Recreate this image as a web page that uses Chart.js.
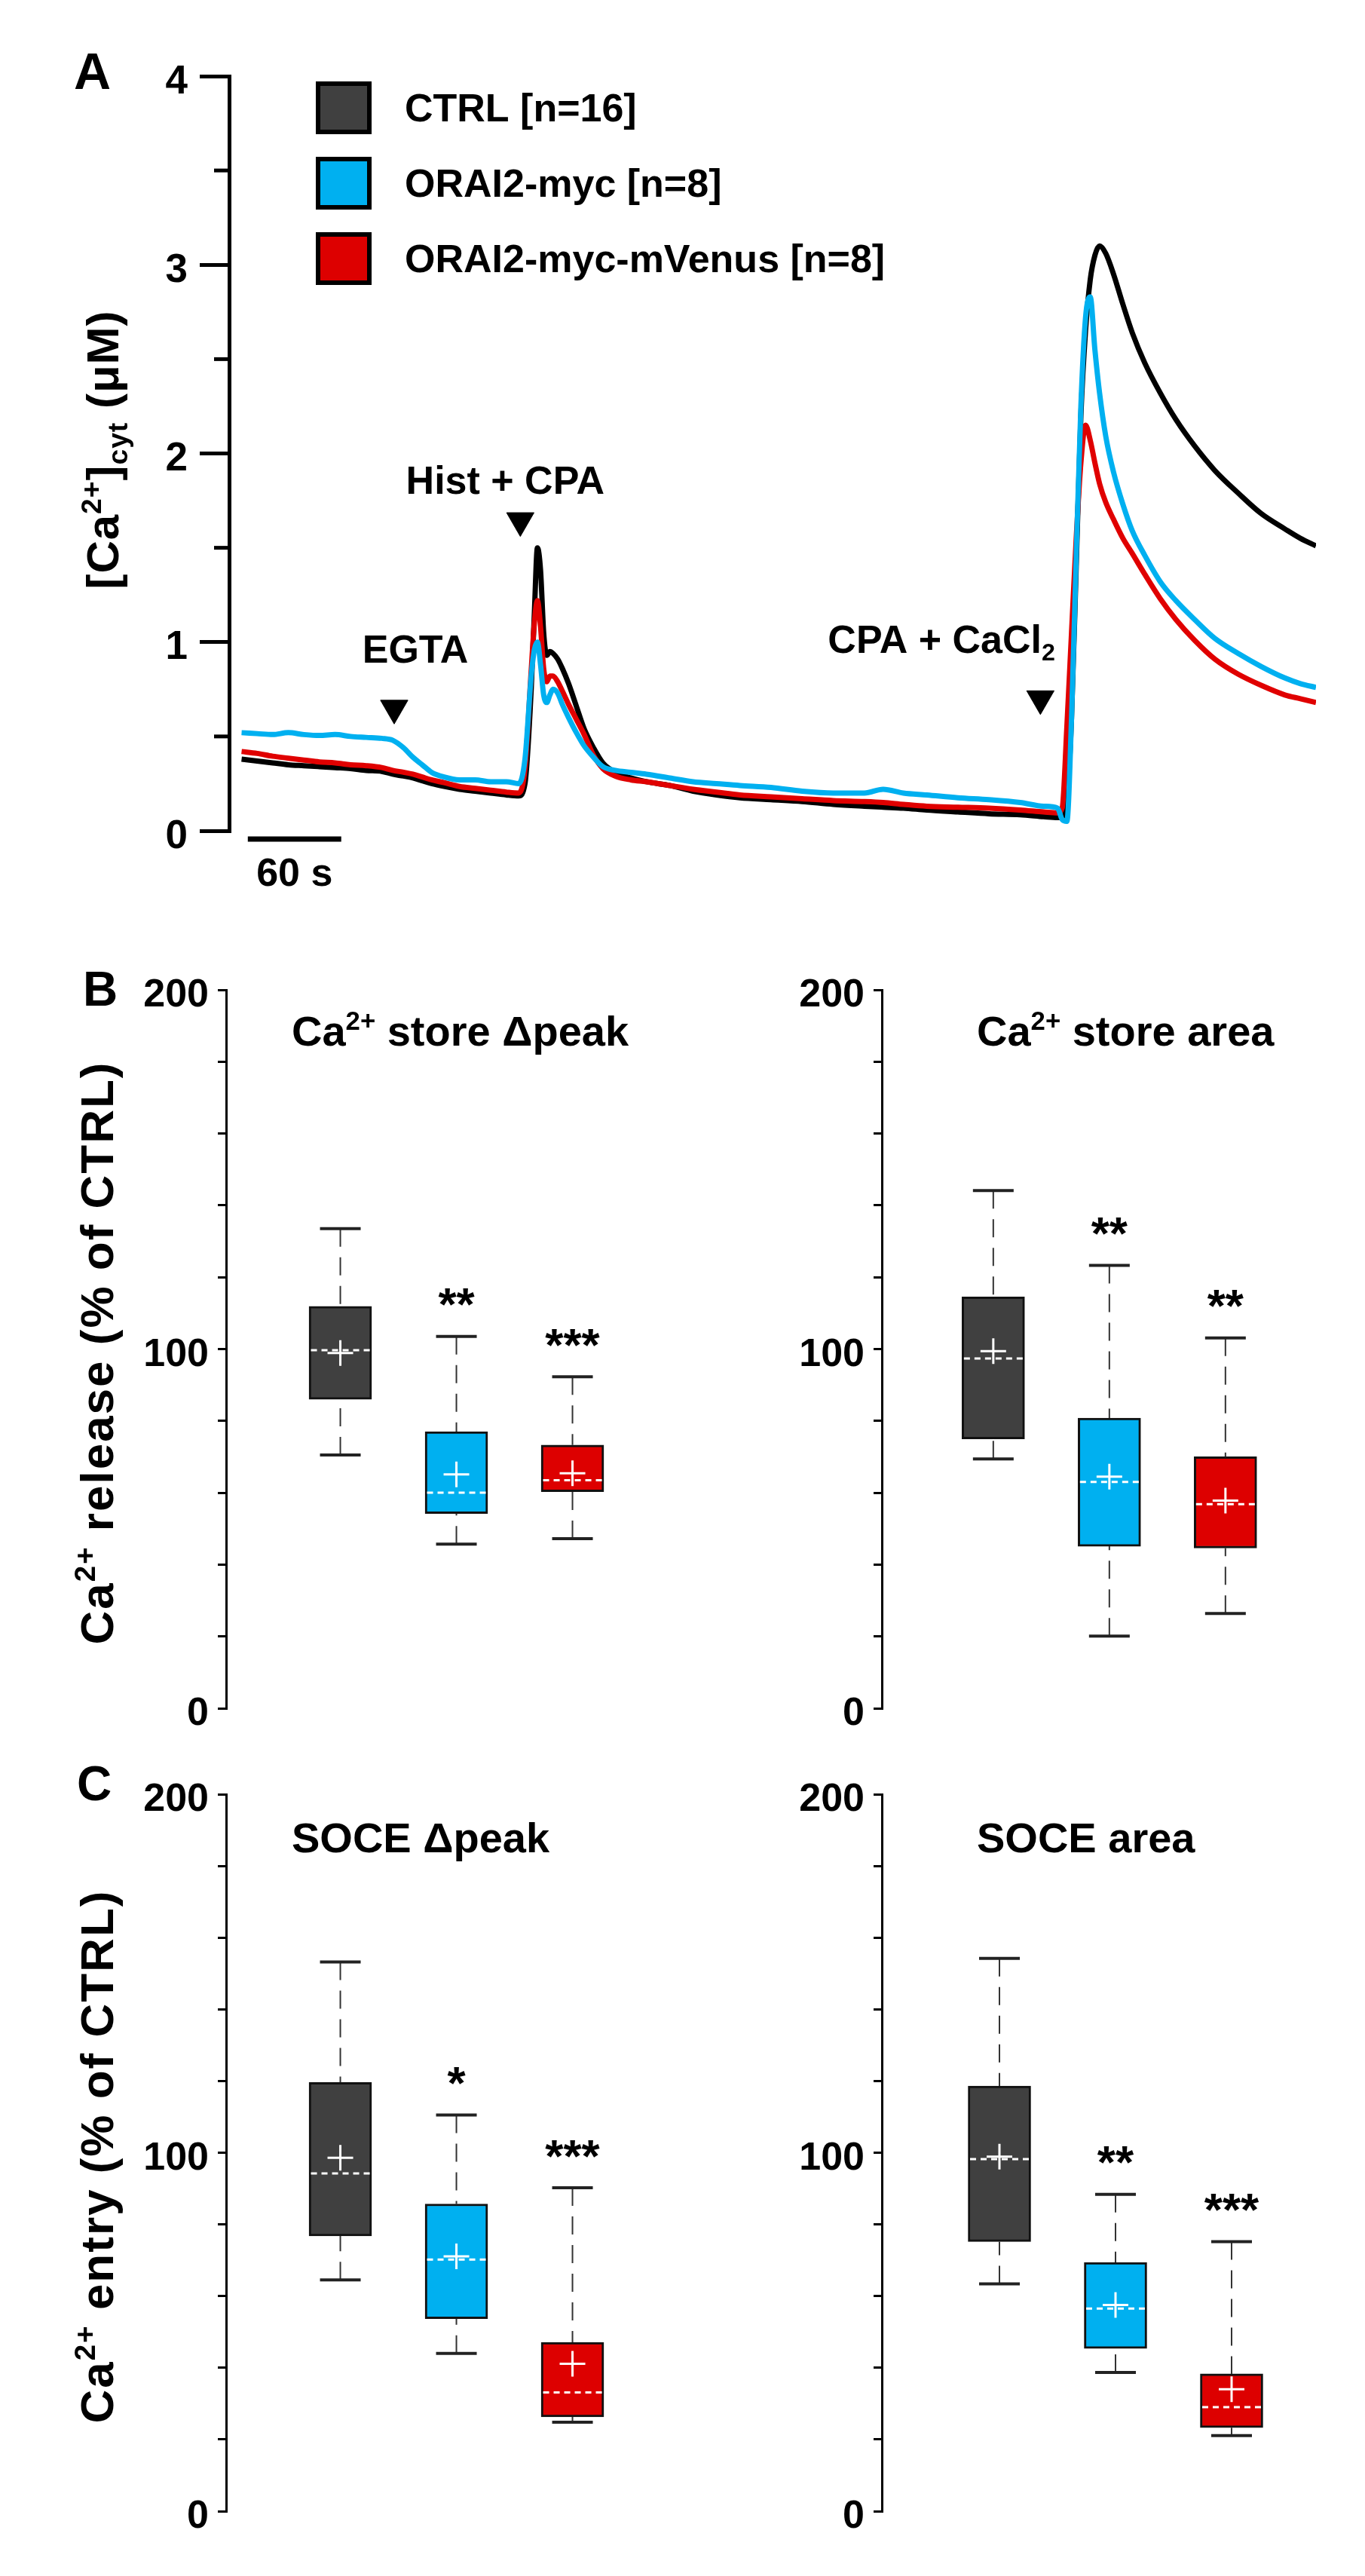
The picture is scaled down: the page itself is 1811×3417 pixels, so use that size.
<!DOCTYPE html>
<html>
<head>
<meta charset="utf-8">
<title>ORAI2 Ca2+ traces and box plots</title>
<script src="https://cdn.jsdelivr.net/npm/chart.js@4.4.1/dist/chart.umd.min.js"></script>
<style>
  html, body { margin: 0; padding: 0; background: #fff; }
  #page { position: relative; width: 1811px; height: 3417px; }
  .panel { position: absolute; }
  canvas { display: block; }
</style>
</head>
<body>
<div id="page">
  <div class="panel" style="left:0;top:0"><canvas id="traces" width="1811" height="1250"></canvas></div>
  <div class="panel" style="left:0;top:1250px"><canvas id="storePeak" width="905" height="1080"></canvas></div>
  <div class="panel" style="left:905px;top:1250px"><canvas id="storeArea" width="906" height="1080"></canvas></div>
  <div class="panel" style="left:0;top:2330px"><canvas id="socePeak" width="905" height="1087"></canvas></div>
  <div class="panel" style="left:905px;top:2330px"><canvas id="soceArea" width="906" height="1087"></canvas></div>
</div>
<script>
// Panel A : moyenne des traces [Ca2+]cyt (temps en s, valeurs en µM)
const timeS = [0, 10, 20, 30, 40, 50, 60, 70, 80, 90,
  97, 104, 110, 116, 122, 130, 140, 150, 160, 170,
  178, 182, 186, 188, 190, 192, 194, 196, 198, 200,
  203, 206, 210, 215, 220, 226, 232, 240, 250, 260,
  275, 290, 305, 320, 340, 360, 380, 400, 412, 425,
  440, 460, 480, 500, 515, 524, 527, 530, 533, 536,
  539, 542, 545, 548, 551, 555, 560, 566, 572, 580,
  590, 600, 612, 625, 640, 655, 670, 680, 690];

const ctrlTrace = [0.38, 0.37, 0.36, 0.35, 0.345, 0.34, 0.335, 0.33, 0.32, 0.315,
  0.30, 0.29, 0.28, 0.265, 0.25, 0.235, 0.22, 0.21, 0.20, 0.19,
  0.185, 0.25, 0.75, 1.15, 1.50, 1.38, 1.05, 0.93, 0.95, 0.94,
  0.91, 0.86, 0.78, 0.66, 0.54, 0.44, 0.36, 0.31, 0.28, 0.26,
  0.24, 0.21, 0.19, 0.175, 0.165, 0.155, 0.14, 0.13, 0.125, 0.12,
  0.11, 0.10, 0.09, 0.085, 0.075, 0.07, 0.07, 0.15, 0.6, 1.4,
  2.2, 2.65, 2.92, 3.05, 3.10, 3.06, 2.95, 2.79, 2.64, 2.48,
  2.32, 2.18, 2.04, 1.91, 1.79, 1.68, 1.60, 1.55, 1.51];

const orai2MycTrace = [0.52, 0.515, 0.51, 0.52, 0.51, 0.505, 0.51, 0.50, 0.495, 0.49,
  0.48, 0.44, 0.39, 0.35, 0.31, 0.285, 0.27, 0.27, 0.26, 0.26,
  0.25, 0.38, 0.82, 0.96, 1.00, 0.88, 0.72, 0.68, 0.72, 0.75,
  0.73, 0.67, 0.60, 0.52, 0.45, 0.39, 0.34, 0.32, 0.31, 0.30,
  0.28, 0.26, 0.25, 0.24, 0.23, 0.21, 0.20, 0.20, 0.22, 0.20,
  0.19, 0.175, 0.165, 0.15, 0.13, 0.12, 0.06, 0.05, 0.6, 1.45,
  2.25, 2.72, 2.83, 2.55, 2.32, 2.09, 1.90, 1.73, 1.59, 1.46,
  1.32, 1.22, 1.12, 1.02, 0.94, 0.87, 0.81, 0.78, 0.76];

const orai2VenusTrace = [0.42, 0.41, 0.395, 0.385, 0.375, 0.365, 0.36, 0.35, 0.345, 0.335,
  0.32, 0.31, 0.30, 0.285, 0.27, 0.255, 0.235, 0.225, 0.215, 0.205,
  0.20, 0.33, 0.85, 1.10, 1.22, 1.08, 0.86, 0.79, 0.82, 0.82,
  0.79, 0.74, 0.67, 0.59, 0.51, 0.40, 0.33, 0.29, 0.27, 0.26,
  0.24, 0.22, 0.205, 0.19, 0.18, 0.17, 0.16, 0.155, 0.15, 0.14,
  0.13, 0.125, 0.12, 0.11, 0.10, 0.095, 0.12, 0.55, 1.05, 1.55,
  1.95, 2.15, 2.07, 1.95, 1.84, 1.74, 1.65, 1.55, 1.47, 1.36,
  1.23, 1.12, 1.01, 0.91, 0.83, 0.77, 0.72, 0.70, 0.68];

const traceTickValues = [0, 1, 2, 3, 4];
const traceMinorTicks = [0.5, 1.5, 2.5, 3.5];

// applications (flèches)
const eventTimes = [98, 179, 513];
const eventLevels = [0.65, 1.644, 0.70];
const eventLabels = [
  [['EGTA', 0]],
  [['Hist + CPA', 0]],
  [['CPA + CaCl', 0], ['2', -1]]
];

const legendLabels = ['CTRL [n=16]', 'ORAI2-myc [n=8]', 'ORAI2-myc-mVenus [n=8]'];

// Panels B et C : boxplots (% of CTRL)
const groups = ['CTRL', 'ORAI2-myc', 'ORAI2-myc-mVenus'];

const storePeakMin = [70.5, 45.7, 47.2];
const storePeakQ1 = [86, 54.2, 60.3];
const storePeakMedian = [99.7, 60, 63.5];
const storePeakQ3 = [111.9, 77, 73.3];
const storePeakMax = [133.5, 103.5, 92.3];
const storePeakMean = [98.9, 65.1, 65.4];
const storePeakStars = ['', '**', '***'];

const storeAreaMin = [69.4, 20.1, 26.4];
const storeAreaQ1 = [75, 45.1, 44.6];
const storeAreaMedian = [97.4, 63, 56.8];
const storeAreaQ3 = [114.5, 80.8, 70];
const storeAreaMax = [144.1, 123.3, 103.1];
const storeAreaMean = [99.4, 64.5, 57.8];
const storeAreaStars = ['', '**', '**'];

const socePeakMin = [64.5, 44, 24.8];
const socePeakQ1 = [76.8, 53.7, 26.3];
const socePeakMedian = [94.2, 70.2, 33.1];
const socePeakQ3 = [119.6, 85.7, 47.1];
const socePeakMax = [153.2, 110.5, 90.2];
const socePeakMean = [98.6, 71.1, 41.1];
const socePeakStars = ['', '*', '***'];

const soceAreaMin = [63.4, 38.7, 21.1];
const soceAreaQ1 = [75.2, 45.4, 23.3];
const soceAreaMedian = [98.2, 56.5, 29];
const soceAreaQ3 = [118.6, 69.4, 38.3];
const soceAreaMax = [154.2, 88.4, 75.2];
const soceAreaMean = [98.9, 57.5, 34];
const soceAreaStars = ['', '**', '***'];

const boxTickLabels = [0, 100, 200];

// couleurs
const BLACK = '#000000';
const GREY = '#404040';
const BLUE = '#00b0f0';
const RED = '#e00000';
const groupColors = [GREY, BLUE, '#dd0000'];
const legendColors = [GREY, BLUE, '#dd0000'];

const FONT = '"Liberation Sans", Arial, Helvetica, sans-serif';
Chart.defaults.font.family = FONT;
Chart.defaults.font.weight = 'bold';
Chart.defaults.color = '#000';

// texte avec exposants / indices : parts = [[texte, 0|1|-1], ...]
function drawRich(ctx, parts, x, y, size, align) {
  const sizeOf = m => (m ? size * 0.62 : size);
  let total = 0;
  parts.forEach(([t, m]) => {
    ctx.font = `bold ${sizeOf(m)}px ${FONT}`;
    total += ctx.measureText(t).width;
  });
  let cx = x;
  if (align === 'center') cx = x - total / 2;
  if (align === 'right') cx = x - total;
  ctx.textAlign = 'left';
  ctx.textBaseline = 'alphabetic';
  parts.forEach(([t, m]) => {
    ctx.font = `bold ${sizeOf(m)}px ${FONT}`;
    const dy = m === 1 ? -size * 0.38 : (m === -1 ? size * 0.2 : 0);
    ctx.fillText(t, cx, y + dy);
    cx += ctx.measureText(t).width;
  });
}

function drawRotated(ctx, parts, cx, cy, size, baseOffset, spacing) {
  ctx.save();
  ctx.translate(cx, cy);
  ctx.rotate(-Math.PI / 2);
  if (spacing) ctx.letterSpacing = spacing + 'px';
  drawRich(ctx, parts, 0, baseOffset, size, 'center');
  ctx.restore();
}

// ---------- Panel A ----------
const eventLabelDx = [28, -20, -282];
const eventLabelDy = [-60, -36, -61];
const eventLabelAlign = ['center', 'center', 'left'];
const scaleBarStart = 4;
const scaleBarSeconds = 60;

const traceDecor = {
  id: 'traceDecor',
  afterDraw(chart) {
    const ctx = chart.ctx;
    const xs = chart.scales.x;
    const ys = chart.scales.y;
    const area = chart.chartArea;
    ctx.save();
    ctx.fillStyle = '#000';
    ctx.strokeStyle = '#000';

    // petits traits à 0.5
    ctx.lineWidth = 5;
    traceMinorTicks.forEach(v => {
      const y = ys.getPixelForValue(v);
      ctx.beginPath();
      ctx.moveTo(area.left - 20, y);
      ctx.lineTo(area.left, y);
      ctx.stroke();
    });

    ctx.font = `bold 68px ${FONT}`;
    ctx.textAlign = 'left';
    ctx.textBaseline = 'alphabetic';
    ctx.fillText('A', 98, 118);

    drawRotated(ctx, [['[Ca', 0], ['2+', 1], [']', 0], ['cyt', -1], [' (μM)', 0]],
      136, (area.top + area.bottom) / 2 - 5, 60, 21, 1);

    // légende
    legendLabels.forEach((label, i) => {
      const top = 108 + i * 100;
      ctx.fillStyle = legendColors[i];
      ctx.fillRect(419, top, 74, 70);
      ctx.lineWidth = 6;
      ctx.strokeStyle = '#000';
      ctx.strokeRect(422, top + 3, 68, 64);
      ctx.fillStyle = '#000';
      ctx.font = `bold 52px ${FONT}`;
      ctx.textAlign = 'left';
      ctx.textBaseline = 'alphabetic';
      ctx.fillText(label, 537, top + 35 + 18);
    });

    // étiquettes des applications
    eventTimes.forEach((t, i) => {
      const x = xs.getPixelForValue(t) + eventLabelDx[i];
      const y = ys.getPixelForValue(eventLevels[i]) + eventLabelDy[i];
      drawRich(ctx, eventLabels[i], x, y, 52, eventLabelAlign[i]);
    });

    // barre d'échelle
    const x0 = xs.getPixelForValue(scaleBarStart);
    const x1 = xs.getPixelForValue(scaleBarStart + scaleBarSeconds);
    ctx.lineWidth = 7;
    ctx.beginPath();
    ctx.moveTo(x0, area.bottom + 11);
    ctx.lineTo(x1, area.bottom + 11);
    ctx.stroke();
    ctx.font = `bold 52px ${FONT}`;
    ctx.textAlign = 'center';
    ctx.fillText(scaleBarSeconds + ' s', (x0 + x1) / 2, area.bottom + 73);
    ctx.restore();
  }
};

const toPoints = values => timeS.map((t, i) => ({ x: t, y: values[i] }));

new Chart(document.getElementById('traces'), {
  type: 'line',
  data: {
    datasets: [
      { label: 'ORAI2-myc', data: toPoints(orai2MycTrace), borderColor: BLUE, order: 2 },
      { label: 'ORAI2-myc-mVenus', data: toPoints(orai2VenusTrace), borderColor: RED, order: 3 },
      { label: 'CTRL', data: toPoints(ctrlTrace), borderColor: BLACK, order: 4 },
      {
        type: 'scatter', label: 'applications',
        data: eventTimes.map((t, i) => ({ x: t, y: eventLevels[i] })),
        pointStyle: 'triangle', rotation: 180, pointRadius: 21,
        backgroundColor: '#000', borderColor: '#000', borderWidth: 1, order: 1
      }
    ]
  },
  options: {
    responsive: false,
    animation: false,
    layout: { padding: { left: 0, top: 101, right: 65, bottom: 148 } },
    elements: {
      line: { borderWidth: 7, cubicInterpolationMode: 'monotone' },
      point: { radius: 0 }
    },
    plugins: { legend: { display: false }, tooltip: { enabled: false } },
    scales: {
      x: { type: 'linear', display: false, min: -8, max: 690 },
      y: {
        min: 0, max: 4,
        afterFit: s => { s.width = 304; },
        afterBuildTicks: s => { s.ticks = traceTickValues.map(v => ({ value: v })); },
        ticks: { padding: 16, labelOffset: 8, color: '#000', autoSkip: false,
          font: { size: 53, weight: 'bold' } },
        grid: { drawOnChartArea: false, tickLength: 39, lineWidth: 5, color: '#000' },
        border: { width: 5, color: '#000' }
      }
    }
  },
  plugins: [traceDecor]
});

// ---------- Panels B et C ----------
function boxDecor(p) {
  return {
    id: 'boxDecor',
    afterDatasetDraw(chart, args) {
      if (args.index !== 0) return;
      const ctx = chart.ctx;
      const xs = chart.scales.x;
      const ys = chart.scales.y;
      ctx.save();
      // moustaches
      ctx.strokeStyle = '#333';
      ctx.lineWidth = 2;
      ctx.setLineDash([24, 14]);
      groups.forEach((g, i) => {
        const x = xs.getPixelForValue(i + 1);
        ctx.beginPath();
        ctx.moveTo(x, ys.getPixelForValue(p.max[i]));
        ctx.lineTo(x, ys.getPixelForValue(p.q3[i]));
        ctx.moveTo(x, ys.getPixelForValue(p.min[i]));
        ctx.lineTo(x, ys.getPixelForValue(p.q1[i]));
        ctx.stroke();
      });
      ctx.setLineDash([]);
      ctx.strokeStyle = '#222';
      ctx.lineWidth = 4;
      groups.forEach((g, i) => {
        const x = xs.getPixelForValue(i + 1);
        [p.max[i], p.min[i]].forEach(v => {
          const y = ys.getPixelForValue(v);
          ctx.beginPath();
          ctx.moveTo(x - 27, y);
          ctx.lineTo(x + 27, y);
          ctx.stroke();
        });
      });
      // médianes
      ctx.strokeStyle = '#fff';
      ctx.lineWidth = 3;
      ctx.setLineDash([8, 6]);
      groups.forEach((g, i) => {
        const x = xs.getPixelForValue(i + 1);
        const y = ys.getPixelForValue(p.median[i]);
        ctx.beginPath();
        ctx.moveTo(x - 39, y);
        ctx.lineTo(x + 39, y);
        ctx.stroke();
      });
      ctx.restore();
    },
    afterDraw(chart) {
      const ctx = chart.ctx;
      const xs = chart.scales.x;
      const ys = chart.scales.y;
      const area = chart.chartArea;
      ctx.save();
      ctx.fillStyle = '#000';
      // étoiles
      ctx.font = `bold 62px ${FONT}`;
      ctx.textAlign = 'center';
      ctx.textBaseline = 'alphabetic';
      p.stars.forEach((s, i) => {
        if (!s) return;
        const m = ctx.measureText(s);
        const yc = ys.getPixelForValue(p.max[i]) - 52;
        const yb = yc + (m.actualBoundingBoxAscent - m.actualBoundingBoxDescent) / 2;
        ctx.fillText(s, xs.getPixelForValue(i + 1), yb);
      });
      // titre du panneau
      drawRich(ctx, p.title, area.left + p.titleDx, area.top + p.titleDy, 56, 'left');
      if (p.letter) {
        ctx.font = `bold 64px ${FONT}`;
        ctx.textAlign = 'left';
        ctx.textBaseline = 'alphabetic';
        ctx.fillText(p.letter, p.letterX, p.letterY);
      }
      if (p.yTitle) {
        drawRotated(ctx, p.yTitle, 126, (area.top + area.bottom) / 2 + 5, 62, 24, 2);
      }
      ctx.restore();
    }
  };
}

function boxChart(id, p) {
  return new Chart(document.getElementById(id), {
    type: 'bar',
    data: {
      datasets: [
        {
          label: 'IQR',
          data: groups.map((g, i) => ({ x: i + 1, y: [p.q1[i], p.q3[i]] })),
          backgroundColor: groupColors,
          borderColor: '#111',
          borderWidth: 3,
          borderSkipped: false,
          barThickness: 83,
          order: 2
        },
        {
          type: 'scatter',
          label: 'mean',
          data: groups.map((g, i) => ({ x: i + 1, y: p.mean[i] })),
          pointStyle: 'cross',
          pointRadius: 17,
          borderColor: '#fff',
          borderWidth: 3,
          order: 1
        }
      ]
    },
    options: {
      responsive: false,
      animation: false,
      layout: { padding: { left: 0, top: p.top, right: p.right, bottom: p.bottom } },
      plugins: { legend: { display: false }, tooltip: { enabled: false } },
      scales: {
        x: { type: 'linear', display: false, offset: false, min: p.xMin, max: p.xMin + 3.5 },
        y: {
          min: 0, max: 200,
          afterFit: s => { s.width = p.axisX; },
          ticks: {
            stepSize: 20, autoSkip: false, padding: 12, labelOffset: 8, color: '#000',
            font: { size: 52, weight: 'bold' },
            callback: v => (boxTickLabels.includes(v) ? v : '')
          },
          grid: { drawOnChartArea: false, tickLength: 11, lineWidth: 3, color: '#000' },
          border: { width: 3, color: '#000' }
        }
      }
    },
    plugins: [boxDecor(p)]
  });
}

const releaseTitle = [['Ca', 0], ['2+', 1], [' release (% of CTRL)', 0]];
const entryTitle = [['Ca', 0], ['2+', 1], [' entry (% of CTRL)', 0]];

boxChart('storePeak', {
  min: storePeakMin, q1: storePeakQ1, median: storePeakMedian, q3: storePeakQ3,
  max: storePeakMax, mean: storePeakMean, stars: storePeakStars,
  title: [['Ca', 0], ['2+', 1], [' store Δpeak', 0]], titleDx: 87, titleDy: 74,
  letter: 'B', letterX: 110, letterY: 84, yTitle: releaseTitle,
  axisX: 300, top: 63, bottom: 64, right: 66, xMin: 0.016
});
boxChart('storeArea', {
  min: storeAreaMin, q1: storeAreaQ1, median: storeAreaMedian, q3: storeAreaQ3,
  max: storeAreaMax, mean: storeAreaMean, stars: storeAreaStars,
  title: [['Ca', 0], ['2+', 1], [' store area', 0]], titleDx: 126, titleDy: 74,
  axisX: 265, top: 63, bottom: 64, right: 102, xMin: 0.04
});
boxChart('socePeak', {
  min: socePeakMin, q1: socePeakQ1, median: socePeakMedian, q3: socePeakQ3,
  max: socePeakMax, mean: socePeakMean, stars: socePeakStars,
  title: [['SOCE Δpeak', 0]], titleDx: 87, titleDy: 77,
  letter: 'C', letterX: 102, letterY: 58, yTitle: entryTitle,
  axisX: 300, top: 50, bottom: 86, right: 66, xMin: 0.016
});
boxChart('soceArea', {
  min: soceAreaMin, q1: soceAreaQ1, median: soceAreaMedian, q3: soceAreaQ3,
  max: soceAreaMax, mean: soceAreaMean, stars: soceAreaStars,
  title: [['SOCE area', 0]], titleDx: 126, titleDy: 77,
  axisX: 265, top: 50, bottom: 86, right: 102, xMin: -0.013
});
</script>
</body>
</html>
